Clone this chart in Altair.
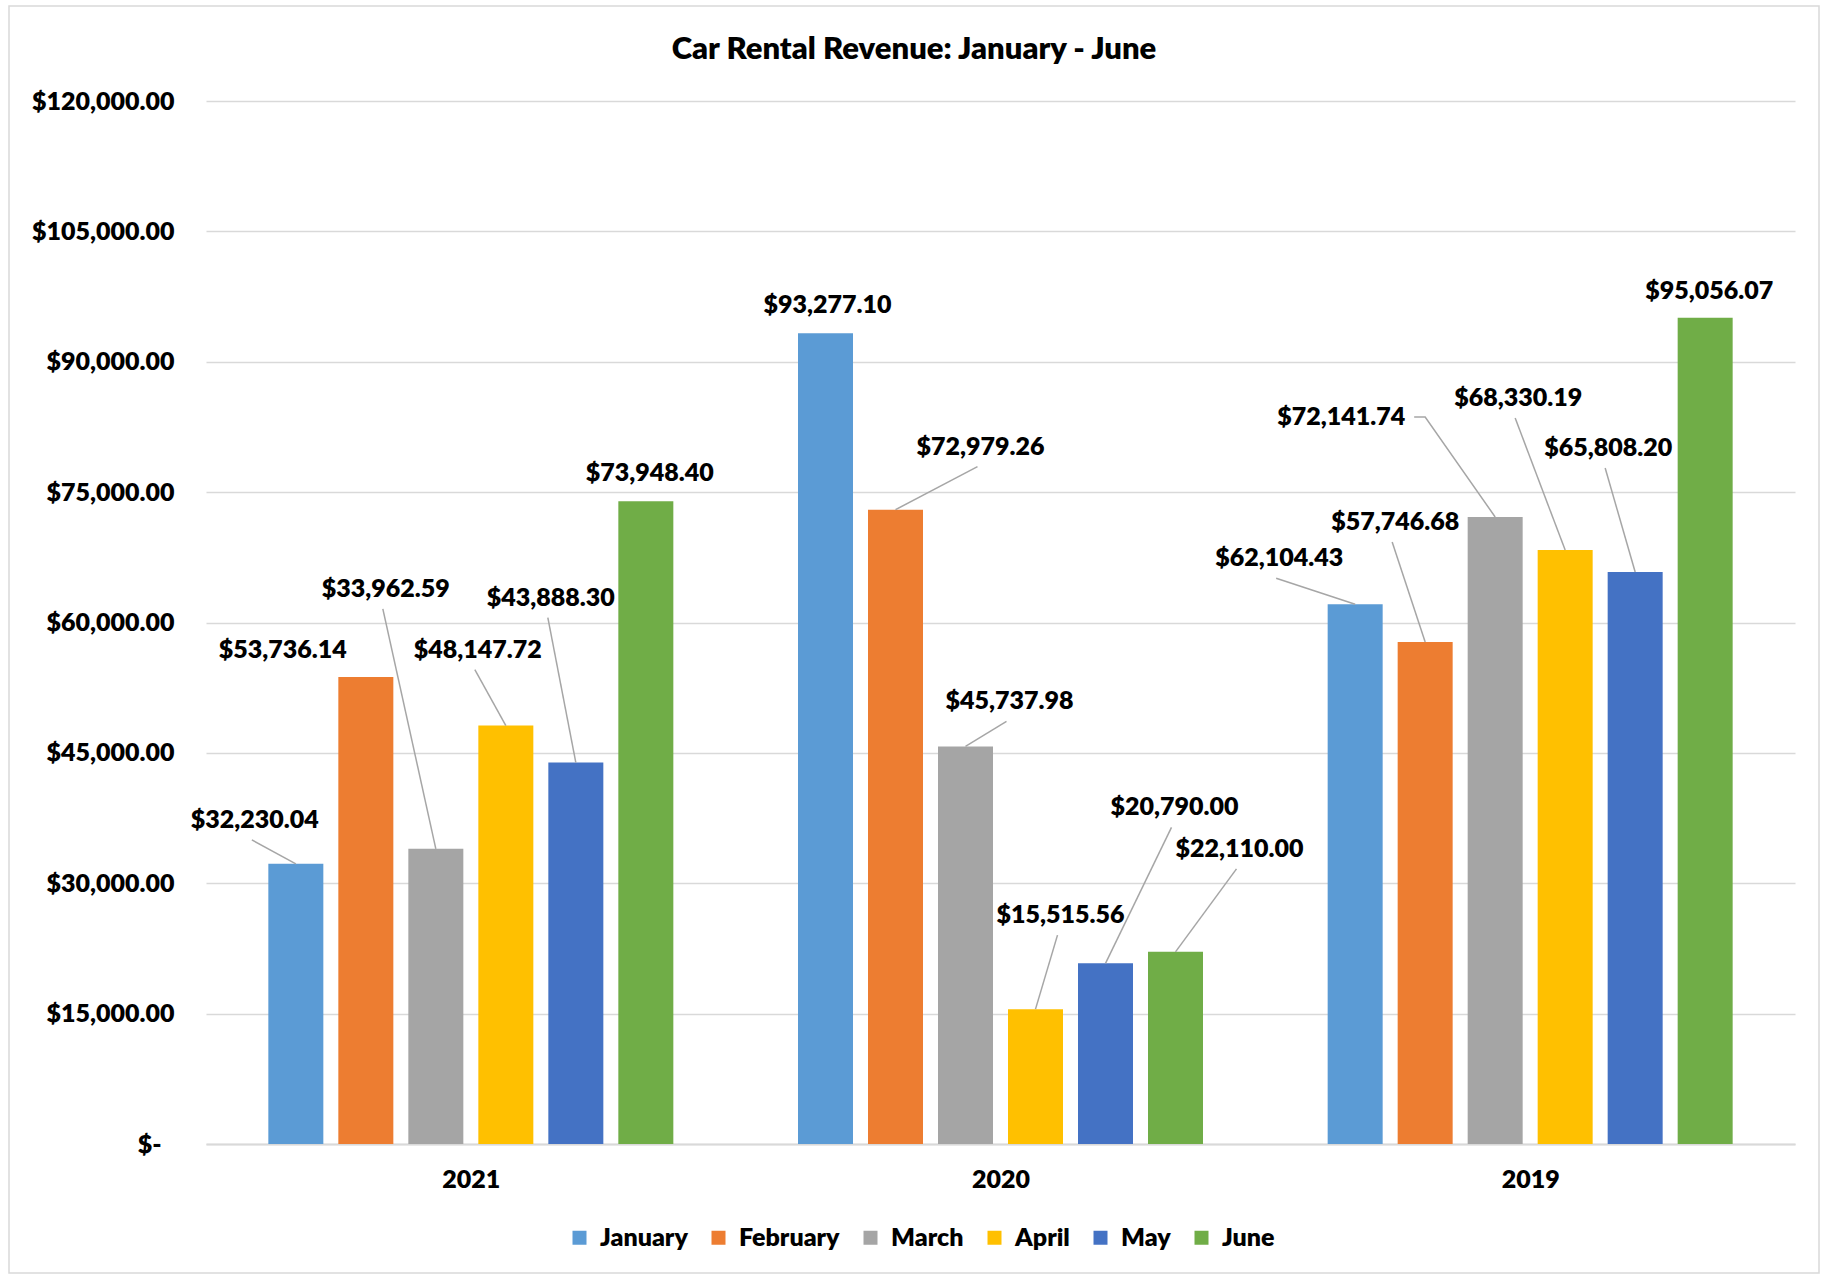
import json
import altair as alt
import pandas as pd

# ---------------- data ----------------
years = ["2021", "2020", "2019"]
months = ["January", "February", "March", "April", "May", "June"]
colors = ["#5B9BD5", "#ED7D31", "#A5A5A5", "#FFC000", "#4472C4", "#70AD47"]

rev_2021 = [32230.04, 53736.14, 33962.59, 48147.72, 43888.30, 73948.40]
rev_2020 = [93277.10, 72979.26, 45737.98, 15515.56, 20790.00, 22110.00]
rev_2019 = [62104.43, 57746.68, 72141.74, 68330.19, 65808.20, 95056.07]

y_ticks = [0, 15000, 30000, 45000, 60000, 75000, 90000, 105000, 120000]
title_text = "Car Rental Revenue: January - June"

# ---------------- label layout (pixels from bar top centre) ----------------
label_dx_2021 = [-41, -83, -50, -28, -25, 4]
label_dy_2021 = [-44, -27, -260, -76, -165, -28]
label_dx_2020 = [2, 85, 44, 25, 69, 64]
label_dy_2020 = [-28, -63, -45, -94, -156, -103]
label_dx_2019 = [-76, -30, -154, -47, -27, 4]
label_dy_2019 = [-46, -120, -100, -152, -124, -27]
leader_2021 = [True, False, True, True, True, False]
leader_2020 = [False, True, True, True, True, True]
leader_2019 = [True, True, "side", True, True, False]

# ---------------- geometry ----------------
PLOT_W, PLOT_H = 1589, 1043
YMAX = 120000
PX = PLOT_W / 3.0          # pixels per x unit (one year group)
SLOT, BAR_W = 70, 55       # pixels
PY = YMAX / PLOT_H         # value units per pixel

revs = [rev_2021, rev_2020, rev_2019]
ldx = [label_dx_2021, label_dx_2020, label_dx_2019]
ldy = [label_dy_2021, label_dy_2020, label_dy_2019]
lead = [leader_2021, leader_2020, leader_2019]

bar_rows, lab_rows, lead_rows = [], [], []
for yi, yr in enumerate(years):
    for mi, mo in enumerate(months):
        v = revs[yi][mi]
        xc = yi + 0.5 + (mi - 2.5) * SLOT / PX
        bar_rows.append({"year": yr, "month": mo, "value": v,
                         "x0": xc - BAR_W / 2 / PX, "x1": xc + BAR_W / 2 / PX})
        lx = xc + ldx[yi][mi] / PX
        ly = v - ldy[yi][mi] * PY
        lab_rows.append({"lx": lx, "ly": ly, "text": f"${v:,.2f}"})
        kind = lead[yi][mi]
        lid = f"{yr}-{mo}"
        if kind is True:
            pts = [(lx - 3 / PX, ly - 20 * PY), (xc, v)]
        elif kind == "side":
            pts = [(lx + 73 / PX, ly), (lx + 84 / PX, ly), (xc, v)]
        else:
            pts = []
        for k, (px_, py_) in enumerate(pts):
            lead_rows.append({"lid": lid, "ord": k, "px": px_, "py": py_})

bars_df = pd.DataFrame(bar_rows)
labels_df = pd.DataFrame(lab_rows)
leaders_df = pd.DataFrame(lead_rows)

FONT = "Lato"
FW = 800
FS = 25
xscale = alt.Scale(domain=[0, 3], nice=False, zero=False)
yscale = alt.Scale(domain=[0, YMAX], nice=False)

label_expr_x = json.dumps(years) + "[floor(datum.value)]"

bars = alt.Chart(bars_df).mark_bar().encode(
    x=alt.X("x0:Q", scale=xscale,
            axis=alt.Axis(values=[0.5, 1.5, 2.5], labelExpr=label_expr_x, title=None,
                          grid=False, ticks=False, domain=True, domainColor="#D9D9D9",
                          domainWidth=2, labelFont=FONT, labelFontSize=FS,
                          labelFontWeight=FW, labelColor="#000000",
                          labelPadding=23, labelFlush=False)),
    x2="x1:Q",
    y=alt.Y("value:Q", scale=yscale,
            axis=alt.Axis(values=y_ticks, title=None, grid=True, gridColor="#D9D9D9",
                          gridWidth=1.5, domain=False, ticks=False,
                          labelExpr="datum.value == 0 ? '$-' : format(datum.value, '$,.2f')",
                          labelFont=FONT, labelFontSize=FS, labelFontWeight=FW,
                          labelColor="#000000",
                          labelPadding={"condition": {"test": "datum.value == 0", "value": 45},
                                        "value": 32})),
    y2=alt.datum(0),
    color=alt.Color("month:N", scale=alt.Scale(domain=months, range=colors),
                    legend=alt.Legend(orient="none", legendX=361, legendY=1124,
                                      direction="horizontal", columns=6, title=None,
                                      symbolType="square", symbolSize=196,
                                      symbolStrokeWidth=0, labelFont=FONT,
                                      labelFontSize=FS, labelFontWeight=FW,
                                      labelColor="#000000", labelOffset=8,
                                      columnPadding=18, padding=0)),
)

leaders = alt.Chart(leaders_df).mark_line(color="#A6A6A6", strokeWidth=1.5).encode(
    x=alt.X("px:Q", scale=xscale),
    y=alt.Y("py:Q", scale=yscale),
    detail="lid:N",
    order="ord:Q",
)

labels = alt.Chart(labels_df).mark_text(
    font=FONT, fontSize=FS, fontWeight=FW, color="#000000",
    align="center", baseline="middle"
).encode(
    x=alt.X("lx:Q", scale=xscale),
    y=alt.Y("ly:Q", scale=yscale),
    text="text:N",
)

frame = alt.Chart(pd.DataFrame({"k": [0]})).mark_rect(
    fill="transparent", stroke="#D9D9D9", strokeWidth=1.5
).encode(
    x=alt.value(-197), x2=alt.value(1613), y=alt.value(-95), y2=alt.value(1172)
)

chart = alt.layer(frame, bars, leaders, labels).properties(
    width=PLOT_W,
    height=PLOT_H,
    title=alt.TitleParams(title_text, font=FONT, fontSize=31, fontWeight=FW,
                          color="#000000", anchor="middle", frame="bounds",
                          offset=-85, baseline="alphabetic"),
    autosize=alt.AutoSizeParams(type="none"),
    padding={"left": 206, "top": 101, "right": 33, "bottom": 131},
).configure(background="#FFFFFF").configure_view(stroke="transparent", strokeWidth=0)

chart.save("out.html", embed_options={"renderer": "svg", "actions": False})
